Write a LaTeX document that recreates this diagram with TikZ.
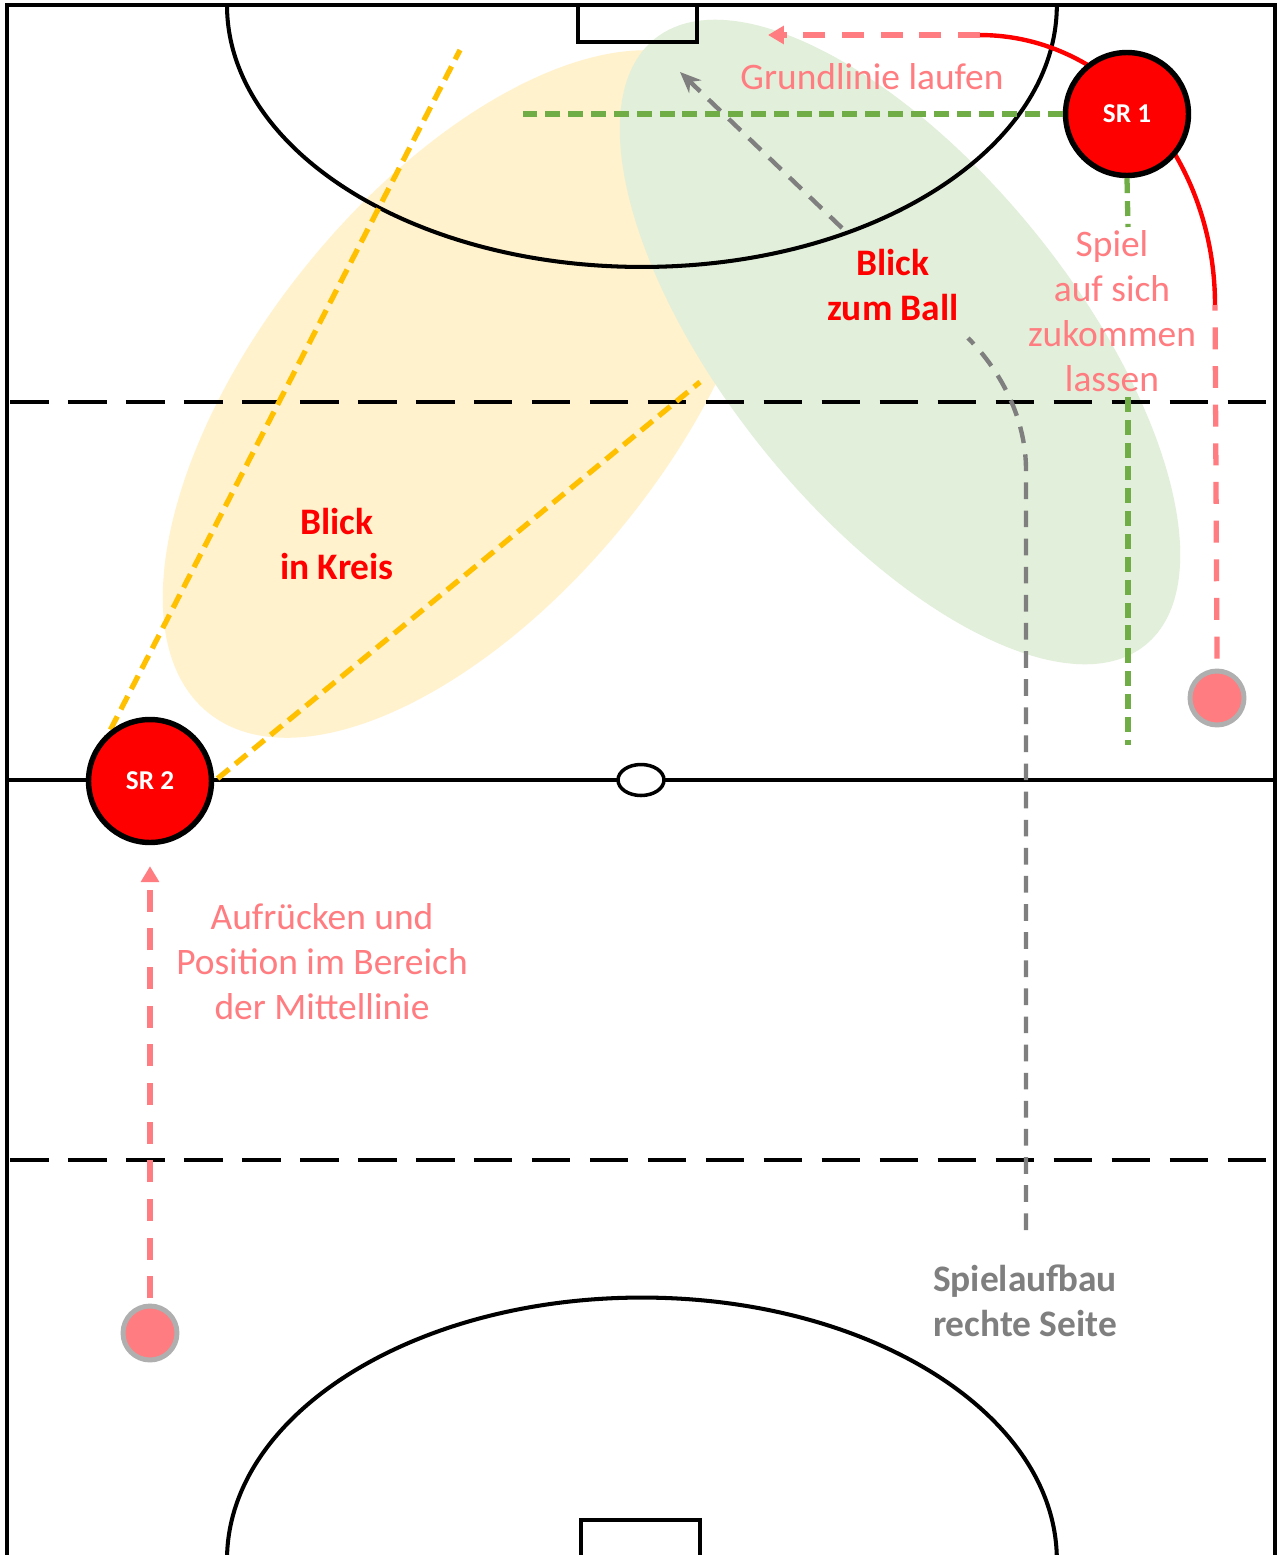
\documentclass[tikz,border=0pt]{standalone}
\usepackage{fontspec}
\setmainfont{Carlito}
\usetikzlibrary{arrows.meta}
\definecolor{pinkc}{HTML}{FF7C80}
\definecolor{yellowfill}{HTML}{FFF2CC}
\definecolor{greenfill}{HTML}{E2EFDA}
\definecolor{greenline}{HTML}{70AD47}
\definecolor{yellowline}{HTML}{FFC000}
\definecolor{grayline}{HTML}{7F7F7F}
\definecolor{dotborder}{HTML}{AFAFAF}
\tikzset{
  fieldline/.style={black, line width=2pt},
  halfline/.style={black, line width=2.1pt, dash pattern=on 22pt off 11pt},
  srnode/.style={circle, fill=red, draw=black, line width=3.1pt, minimum size=2.46cm, inner sep=0pt,
    text=white, font=\bfseries\fontsize{15.5}{18}\selectfont},
  dotnode/.style={circle, fill=pinkc, draw=dotborder, line width=2.8pt, minimum size=1.08cm, inner sep=0pt},
  pinkdash/.style={pinkc, line width=3pt, dash pattern=on 12.5pt off 9.5pt},
  greendash/.style={greenline, line width=3pt, dash pattern=on 8.5pt off 4.5pt},
  yellowdash/.style={yellowline, line width=3pt, dash pattern=on 8.5pt off 4.5pt},
  graydash/.style={grayline, line width=2.5pt, dash pattern=on 9.5pt off 6.5pt},
  lbl/.style={align=center, font=\fontsize{21.3}{25.6}\selectfont, inner sep=0pt},
  pinklbl/.style={lbl, text=pinkc},
  redlbl/.style={lbl, text=red, font=\bfseries\fontsize{21.3}{25.6}\selectfont},
  graylbl/.style={lbl, text=grayline, font=\bfseries\fontsize{21.3}{25.6}\selectfont},
}
\begin{document}
\begin{tikzpicture}[x=0.02cm, y=-0.02cm]
\useasboundingbox (0,0) rectangle (1277,1555);
\clip (0,0) rectangle (1277,1555);
\fill[white] (0,0) rectangle (1277,1555);
% zones
\fill[yellowfill, rotate around={51:(466,394)}] (466,394) ellipse [x radius=8.2cm, y radius=4.1cm];
\fill[greenfill, rotate around={-51:(900,342)}] (900,342) ellipse [x radius=7.8cm, y radius=3.48cm];
% field
\draw[fieldline] (7,1600) -- (7,5) -- (1275,5) -- (1275,1600);
\draw[black, line width=2.3pt] (227,5) arc [start angle=180, end angle=360, x radius=8.3cm, y radius=5.24cm];
\draw[fieldline] (578,5) rectangle (697,42);
\draw[halfline] (10,402) -- (1275,402);
\draw[halfline] (10,1160) -- (1275,1160);
\draw[black, line width=2.4pt] (7,780) -- (1275,780);
\draw[fieldline, fill=white] (641,780) ellipse [x radius=0.46cm, y radius=0.31cm];
\draw[black, line width=2.3pt] (227,1560) arc [start angle=180, end angle=0, x radius=8.3cm, y radius=5.25cm];
\draw[fieldline] (581,1560) -- (581,1520) -- (700,1520) -- (700,1560);
% coordinates
\coordinate (ylA) at (100,750);
\coordinate (ylAend) at (460,50);
\coordinate (ylB) at (200,793);
\coordinate (ylBend) at (700,382);
\coordinate (grH) at (515,114);
\coordinate (grV1) at (1128,227);
\coordinate (grV2) at (1128,397);
\coordinate (grV) at (1128,745);
\coordinate (arcS) at (1215,305);
\coordinate (arcE) at (980,35);
\coordinate (pinkTip) at (768,35);
\coordinate (g0) at (1026,1230);
\coordinate (g1) at (1026,470);
\coordinate (g2) at (968,338);
\coordinate (g3) at (842,228);
\coordinate (g4) at (680,72);
% sight lines
\draw[yellowdash] (ylA) -- (ylAend);
\draw[yellowdash] (ylB) -- (ylBend);
% gray path
\draw[graydash] (g0) -- (g1) .. controls (1026,420) and (1002,372) .. (g2);
\draw[graydash, -{Stealth[length=12pt, width=10pt]}] (g3) -- (g4);
% SR1 path
\draw[red, line width=2.5pt] (arcS) arc [start angle=0, end angle=90, x radius=4.7cm, y radius=5.4cm];
\draw[pinkdash, -{Triangle[length=9pt, width=10pt]}] (arcE) -- (pinkTip);
% nodes
\node[dotnode] (dot1) at (1217,698) {};
\node[dotnode] (dot2) at (150,1333) {};
\draw[pinkdash] (dot1.north) ++(0,-10) -- (arcS);
\node[srnode] (SR1) at (1127,114) {SR 1};
\node[srnode] (SR2) at (150,781) {SR 2};
\draw[greendash] (SR1.west) -- (grH);
\draw[greendash] (SR1.south) -- (grV1);
\draw[greendash] (grV2) -- (grV);
\draw[pinkdash, -{Triangle[length=9pt, width=10pt]}, shorten <=3pt, shorten >=0.42cm] (dot2.north) -- (SR2.south);
% labels
\node[pinklbl] (tGrund) at (872,77) {Grundlinie laufen};
\node[pinklbl] (tSpiel) at (1112,311) {Spiel\\auf sich\\zukommen\\lassen};
\node[redlbl] (tBall) at (893,285) {Blick\\zum Ball};
\node[redlbl] (tKreis) at (337,544) {Blick\\in Kreis};
\node[pinklbl] (tAuf) at (322,962) {Aufrücken und\\Position im Bereich\\der Mittellinie};
\node[graylbl] (tAufbau) at (1025,1301) {Spielaufbau\\rechte Seite};
\end{tikzpicture}
\end{document}
